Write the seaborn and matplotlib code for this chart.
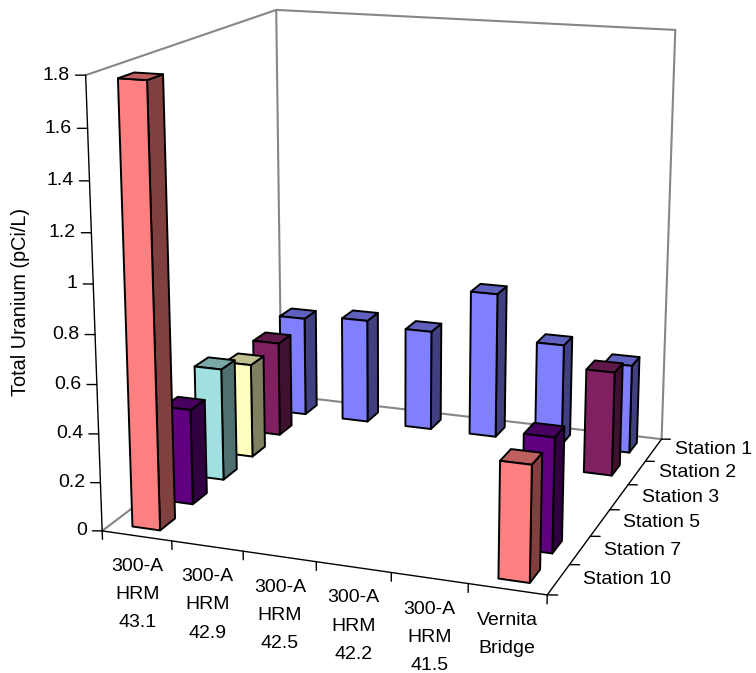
import numpy as np
import seaborn as sns
import matplotlib
matplotlib.use("Agg")
import matplotlib.pyplot as plt

sns.set_theme(style="white", rc={"text.color": "black"})
plt.rcParams["font.family"] = ["Liberation Sans", "DejaVu Sans"]

# Data
locations = ["300-A\nHRM\n43.1", "300-A\nHRM\n42.9", "300-A\nHRM\n42.5",
             "300-A\nHRM\n42.2", "300-A\nHRM\n41.5", "Vernita\nBridge"]
stations = ["Station 10", "Station 7", "Station 5", "Station 3", "Station 2", "Station 1"]
z_ticks = [0, 0.2, 0.4, 0.6, 0.8, 1, 1.2, 1.4, 1.6, 1.8]

nan = np.nan
station_10 = [1.78, nan, nan, nan, nan, 0.46]
station_7 = [0.40, nan, nan, nan, nan, 0.465]
station_5 = [0.48, nan, nan, nan, nan, nan]
station_3 = [0.41, nan, nan, nan, nan, nan]
station_2 = [0.42, nan, nan, nan, nan, 0.45]
station_1 = [0.45, 0.47, 0.45, 0.65, 0.45, 0.39]
series = [station_10, station_7, station_5, station_3, station_2, station_1]

palette = sns.color_palette(["#FF8080", "#600080", "#A0E0E0", "#FFFFC0", "#802060", "#8080FF"])

# Camera: the box corners in the picture give a projection matrix
W, H = 756, 673
box_world = np.array([[0, 0, 0], [6, 0, 0], [6, 6, 0], [0, 6, 0],
                      [0, 0, 1.8], [0, 6, 1.8], [6, 6, 1.8]], dtype=float)
box_pixel = np.array([[103, 531], [547, 595], [662, 439], [280.5, 395],
                      [85, 75], [277, 10], [675, 30]], dtype=float)


def fit_camera(world, pixel):
    rows = []
    for (x, y, z), (u, v) in zip(world, pixel):
        rows.append([x, y, z, 1, 0, 0, 0, 0, -u * x, -u * y, -u * z, -u])
        rows.append([0, 0, 0, 0, x, y, z, 1, -v * x, -v * y, -v * z, -v])
    cam = np.linalg.svd(np.array(rows))[2][-1].reshape(3, 4)
    return cam if cam[2, 3] > 0 else -cam


fig = plt.figure(figsize=(W / 100, H / 100), dpi=100)
ax = fig.add_axes([0, 0, 1, 1], projection="3d", computed_zorder=False)
ax.apply_aspect = lambda position=None: None
ax.set_axis_off()

cam = fit_camera(box_world, box_pixel)
flip = np.array([[1, 0, 0], [0, -1, H], [0, 0, 1]], dtype=float)
to_view = ax.transData.inverted().get_matrix() @ flip @ cam / cam[2, 3]
# third row only gives depth: negative, and nearer zero for far points
proj = np.vstack([to_view[0], to_view[1], [0, 0, 0, -0.5], to_view[2]])
ax.get_proj = lambda: proj


def label(x, y, z, text, **kw):
    # text at a 3D spot, placed as plain figure text
    u, v, w = cam @ np.array([x, y, z, 1.0])
    fig.text(u / w / W, 1 - v / w / H, text, **kw)


# Walls and axis lines
grey = "#868686"
for a, b in [((0, 0, 0), (0, 6, 0)), ((0, 6, 0), (6, 6, 0)), ((0, 6, 0), (0, 6, 1.8)),
             ((6, 6, 0), (6, 6, 1.8)), ((0, 0, 1.8), (0, 6, 1.8)), ((0, 6, 1.8), (6, 6, 1.8))]:
    ax.plot(*zip(a, b), color=grey, lw=1.5, zorder=1)
for a, b in [((0, 0, 0), (0, 0, 1.8)), ((0, 0, 0), (6, 0, 0)), ((6, 0, 0), (6, 6, 0))]:
    ax.plot(*zip(a, b), color="black", lw=1.0, zorder=2)

# Ticks and labels
for v in z_ticks:
    ax.plot([0, -0.12], [0, -0.04], [v, v], color="black", lw=1.0, zorder=2)
    label(-0.19, -0.06, v, f"{v}", ha="right", va="center", fontsize=14)
for i in range(len(locations) + 1):
    ax.plot([i, i], [0, 0], [0, -0.035], color="black", lw=1.0, zorder=2)
for i in range(len(stations) + 1):
    ax.plot([6, 6.12], [i, i + 0.04], [0, 0], color="black", lw=1.0, zorder=2)
for i, name in enumerate(locations):
    label(i + 0.5, 0, -0.09, name, ha="center", va="top", fontsize=14, linespacing=1.87)
for i, name in enumerate(stations):
    label(6.31, i + 0.5, 0.012, name, ha="left", va="center", fontsize=14)
fig.text(21 / W, 1 - 302 / H, "Total Uranium (pCi/L)", rotation=90, ha="center", va="center", fontsize=14.3)

# Bars: back row first, left to right
bar_w, bar_d = 0.4, 0.45
order = 10
for row in reversed(range(len(series))):
    base = np.array(palette[row])
    clear = (0, 0, 0, 0)
    faces = [clear, (*(base * 0.75), 1), (*base, 1), clear, clear, (*(base * 0.5), 1)]
    edges = [clear, "black", "black", clear, clear, "black"]
    for col, value in enumerate(series[row]):
        if np.isnan(value):
            continue
        ax.bar3d(col + 0.5 - bar_w / 2, row + 0.5 - bar_d / 2, 0, bar_w, bar_d, value,
                 color=faces, edgecolor=edges, linewidth=1.4, shade=False, zorder=order)
        order += 1

fig.savefig("out.png", dpi=100)
